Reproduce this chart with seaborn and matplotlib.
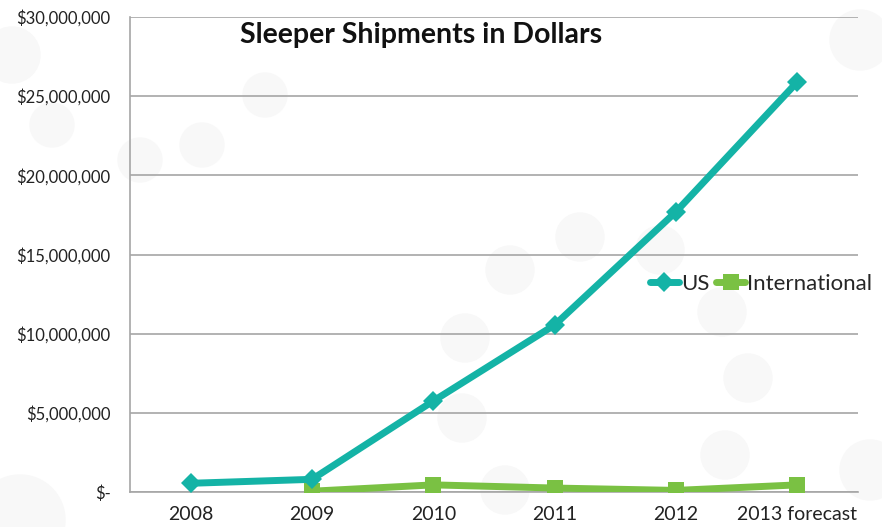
import pandas as pd
import matplotlib.pyplot as plt
import seaborn as sns
from matplotlib.patches import Ellipse
from matplotlib.ticker import FuncFormatter

years = ['2008', '2009', '2010', '2011', '2012', '2013 forecast']
us = [550000, 800000, 5750000, 10550000, 17700000, 25900000]
intl_years = ['2009', '2010', '2011', '2012', '2013 forecast']
intl = [50000, 450000, 250000, 100000, 450000]

teal = '#14B3A6'
green = '#7AC143'

sns.set_theme(style='white')
plt.rcParams['font.family'] = ['Lato', 'DejaVu Sans']

fig = plt.figure(figsize=(8.82, 5.27), dpi=100)
fig.patch.set_facecolor('white')

# faint decorative circles in the background (pixel centre, radius)
W, H = 882, 527
circles = [(12, 55, 28), (52, 125, 22), (140, 160, 22), (202, 145, 22), (265, 95, 22),
           (510, 270, 24), (580, 237, 24), (465, 338, 24), (462, 418, 24), (660, 250, 24),
           (722, 312, 24), (748, 378, 24), (725, 455, 24), (505, 490, 24), (20, 520, 45),
           (860, 40, 30), (870, 470, 30)]
for cx, cy, r in circles:
    fig.patches.append(Ellipse((cx / W, 1 - cy / H), 2 * r / W, 2 * r / H,
                               transform=fig.transFigure, color='#F8F8F8', zorder=-5))

ax = fig.add_axes([130 / W, 1 - 492 / H, 728 / W, 475 / H])
ax.set_facecolor('none')

df_us = pd.DataFrame({'year': years, 'value': us})
df_intl = pd.DataFrame({'year': intl_years, 'value': intl})
xpos = {y: i for i, y in enumerate(years)}
df_us['x'] = df_us['year'].map(xpos)
df_intl['x'] = df_intl['year'].map(xpos)

sns.lineplot(data=df_us, x='x', y='value', ax=ax, color=teal, linewidth=5,
             marker='D', markersize=10, markeredgewidth=0, label='US', zorder=4)
sns.lineplot(data=df_intl, x='x', y='value', ax=ax, color=green, linewidth=5,
             marker='s', markersize=11, markeredgewidth=0, label='International', zorder=3)

ax.set_xlim(-0.5, 5.5)
ax.set_ylim(0, 30000000)
ax.set_yticks(range(0, 30000001, 5000000))
ax.set_xticks(range(len(years)))
ax.set_xticklabels(years)
ax.yaxis.set_major_formatter(FuncFormatter(lambda v, p: '$-' if v == 0 else f'${v:,.0f}'))
ax.set_xlabel('')
ax.set_ylabel('')
ax.grid(axis='y', color='#A6A6A6', linewidth=1.2)
for s in ['top', 'right']:
    ax.spines[s].set_visible(False)
for s in ['left', 'bottom']:
    ax.spines[s].set_color('#A6A6A6')
    ax.spines[s].set_linewidth(1.2)
ax.tick_params(axis='both', colors='#222222', length=0)
ax.tick_params(axis='y', labelsize=12, pad=14)
ax.tick_params(axis='x', labelsize=14, pad=10)

ax.text(0.40, 0.962, 'Sleeper Shipments in Dollars', transform=ax.transAxes,
        ha='center', va='center', fontsize=20.5, fontweight='bold', color='#111111')

ax.legend(loc='center left', bbox_to_anchor=(650 / W, 1 - 284 / H), bbox_transform=fig.transFigure,
          ncol=2, frameon=False, fontsize=16, handlelength=1.3, handletextpad=0.1,
          columnspacing=0.3, borderpad=0, borderaxespad=0)

fig.savefig('out.png', dpi=100)
